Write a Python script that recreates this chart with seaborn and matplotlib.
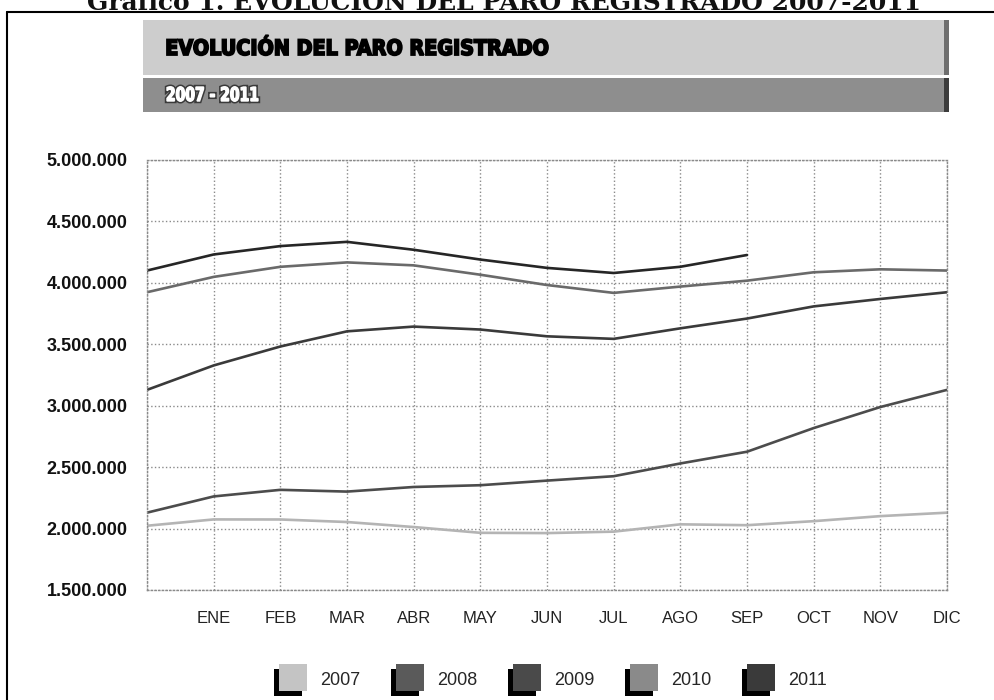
import matplotlib
matplotlib.use("Agg")
import matplotlib.pyplot as plt
import matplotlib.patheffects as pe
from matplotlib.patches import Rectangle, PathPatch
from matplotlib.lines import Line2D
from matplotlib.legend_handler import HandlerBase
from matplotlib.textpath import TextPath
from matplotlib.font_manager import FontProperties
from matplotlib.transforms import Affine2D
import matplotlib.ticker as mticker
import pandas as pd
import seaborn as sns

# month positions: 0 = December of previous year, then ENE..DIC
months = ["", "ENE", "FEB", "MAR", "ABR", "MAY", "JUN", "JUL", "AGO", "SEP", "OCT", "NOV", "DIC"]
years = ["2007", "2008", "2009", "2010", "2011"]

paro_2007 = [2022900, 2074400, 2074000, 2053300, 2012500, 1965500, 1963200, 1975000, 2034500, 2027500, 2060300, 2101300, 2129500]
paro_2008 = [2129500, 2261600, 2315300, 2301000, 2338500, 2352900, 2390400, 2426200, 2530000, 2625400, 2818000, 2989300, 3129000]
paro_2009 = [3129000, 3327800, 3481900, 3605400, 3644000, 3620100, 3564900, 3544100, 3629900, 3709400, 3808400, 3868900, 3923600]
paro_2010 = [3923600, 4048500, 4130600, 4166600, 4142400, 4066200, 3982400, 3918300, 3969700, 4017800, 4086000, 4110300, 4100100]
paro_2011 = [4100100, 4231000, 4299300, 4333700, 4269400, 4189700, 4121800, 4080300, 4130900, 4226700]

line_colors = {"2007": "#b4b4b4", "2008": "#4c4c4c", "2009": "#3a3a3a", "2010": "#6a6a6a", "2011": "#262626"}
legend_colors = {"2007": "#c4c4c4", "2008": "#5a5a5a", "2009": "#4a4a4a", "2010": "#8a8a8a", "2011": "#3a3a3a"}

rows = []
for yr, vals in zip(years, [paro_2007, paro_2008, paro_2009, paro_2010, paro_2011]):
    for i, v in enumerate(vals):
        rows.append({"year": yr, "pos": i, "paro": v})
df = pd.DataFrame(rows)

sns.set_style("white")
plt.rcParams["font.family"] = ["Liberation Sans", "DejaVu Sans"]

fig = plt.figure(figsize=(9.95, 7.0), dpi=100)
ax = fig.add_axes([147 / 995, 1 - 590 / 700, 800 / 995, 430 / 700])

sns.lineplot(data=df, x="pos", y="paro", hue="year", palette=line_colors,
             linewidth=1.9, legend=False, ax=ax)

ax.set_xlim(0, 12)
ax.set_ylim(1500000, 5000000)
ax.set_xticks(range(13))
ax.set_xticklabels(months)
ax.set_yticks(range(1500000, 5000001, 500000))
ax.yaxis.set_major_formatter(mticker.FuncFormatter(lambda v, p: f"{v:,.0f}".replace(",", ".")))
ax.set_xlabel("")
ax.set_ylabel("")
ax.grid(True, color="#8a8a8a", linestyle=":", linewidth=1.0)
ax.set_axisbelow(True)
for s in ax.spines.values():
    s.set_color("#8a8a8a")
    s.set_linestyle(":")
    s.set_linewidth(1.0)
ax.tick_params(axis="y", length=0, pad=14, labelsize=13, colors="#111111")
ax.tick_params(axis="x", length=0, pad=15, labelsize=12, colors="#222222")
for t in ax.get_yticklabels():
    t.set_fontweight("bold")


class ShadowSquare(HandlerBase):
    def create_artists(self, legend, orig_handle, xdescent, ydescent, width, height, fontsize, trans):
        s = 20
        off = 3.6
        x0 = -xdescent + 2
        y0 = -ydescent + height / 2 - s / 2 + 1
        shadow = Rectangle((x0, y0 - off), s, s, facecolor="black", edgecolor="none", transform=trans)
        sq = Rectangle((x0 + off, y0), s, s, facecolor=orig_handle.get_facecolor(),
                       edgecolor="none", transform=trans)
        return [shadow, sq]


handles = [Rectangle((0, 0), 1, 1, facecolor=legend_colors[y]) for y in years]
fig.legend(handles, years, handler_map={Rectangle: ShadowSquare()},
           loc="center", bbox_to_anchor=(549 / 995, 1 - 680 / 700), ncol=5, frameon=False,
           handlelength=1.9, handleheight=1.0, handletextpad=0.8, columnspacing=1.55,
           prop={"size": 13})


def fx(px):
    return px / 995


def fy(py):
    return 1 - py / 700


# banners
fig.patches.append(Rectangle((fx(143), fy(75)), fx(805), 55 / 700, transform=fig.transFigure,
                             facecolor="#cdcdcd", edgecolor="none", zorder=0))
fig.patches.append(Rectangle((fx(944), fy(75)), fx(5), 55 / 700, transform=fig.transFigure,
                             facecolor="#6f6f6f", edgecolor="none", zorder=0))
fig.patches.append(Rectangle((fx(143), fy(112)), fx(805), 34 / 700, transform=fig.transFigure,
                             facecolor="#8e8e8e", edgecolor="none", zorder=0))
fig.patches.append(Rectangle((fx(944), fy(112)), fx(5), 34 / 700, transform=fig.transFigure,
                             facecolor="#3c3c3c", edgecolor="none", zorder=0))


def banner_text(s, x_px, base_px, cap_px, width_px, face, lw, outline=None):
    # condensed heavy lettering, squeezed to the width seen in the scan
    fp = FontProperties(family="DejaVu Sans", weight="bold")
    tp = TextPath((0, 0), s, size=100, prop=fp)
    ext = tp.get_extents()
    sy = cap_px / 72.9
    sx = width_px / ext.width
    tr = Affine2D().translate(-ext.x0, 0).scale(sx / 995, sy / 700).translate(fx(x_px), fy(base_px))
    patch = PathPatch(tr.transform_path(tp), facecolor=face, edgecolor=face, lw=lw,
                      transform=fig.transFigure)
    if outline:
        patch.set_path_effects([pe.Stroke(linewidth=lw + 2.2, foreground=outline), pe.Normal()])
    fig.patches.append(patch)


banner_text("EVOLUCIÓN DEL PARO REGISTRADO", 167, 55, 15.5, 381, "black", 1.3)
banner_text("2007 - 2011", 167, 101, 14, 91, "white", 1.0, outline="#3a3a3a")

# cut-off caption at the top of the scan
fig.text(fx(504), fy(10), "Gráfico 1. EVOLUCIÓN DEL PARO REGISTRADO 2007-2011", ha="center",
         va="baseline", fontsize=18, fontweight="bold", family=["DejaVu Serif"], color="#111111")

# page frame
fig.lines.append(Line2D([fx(7), fx(7)], [fy(12), 0], transform=fig.transFigure, color="black", lw=1.5))
fig.lines.append(Line2D([fx(7), 1], [fy(12), fy(12)], transform=fig.transFigure, color="black", lw=1.5))

fig.savefig("out.png", dpi=100)
